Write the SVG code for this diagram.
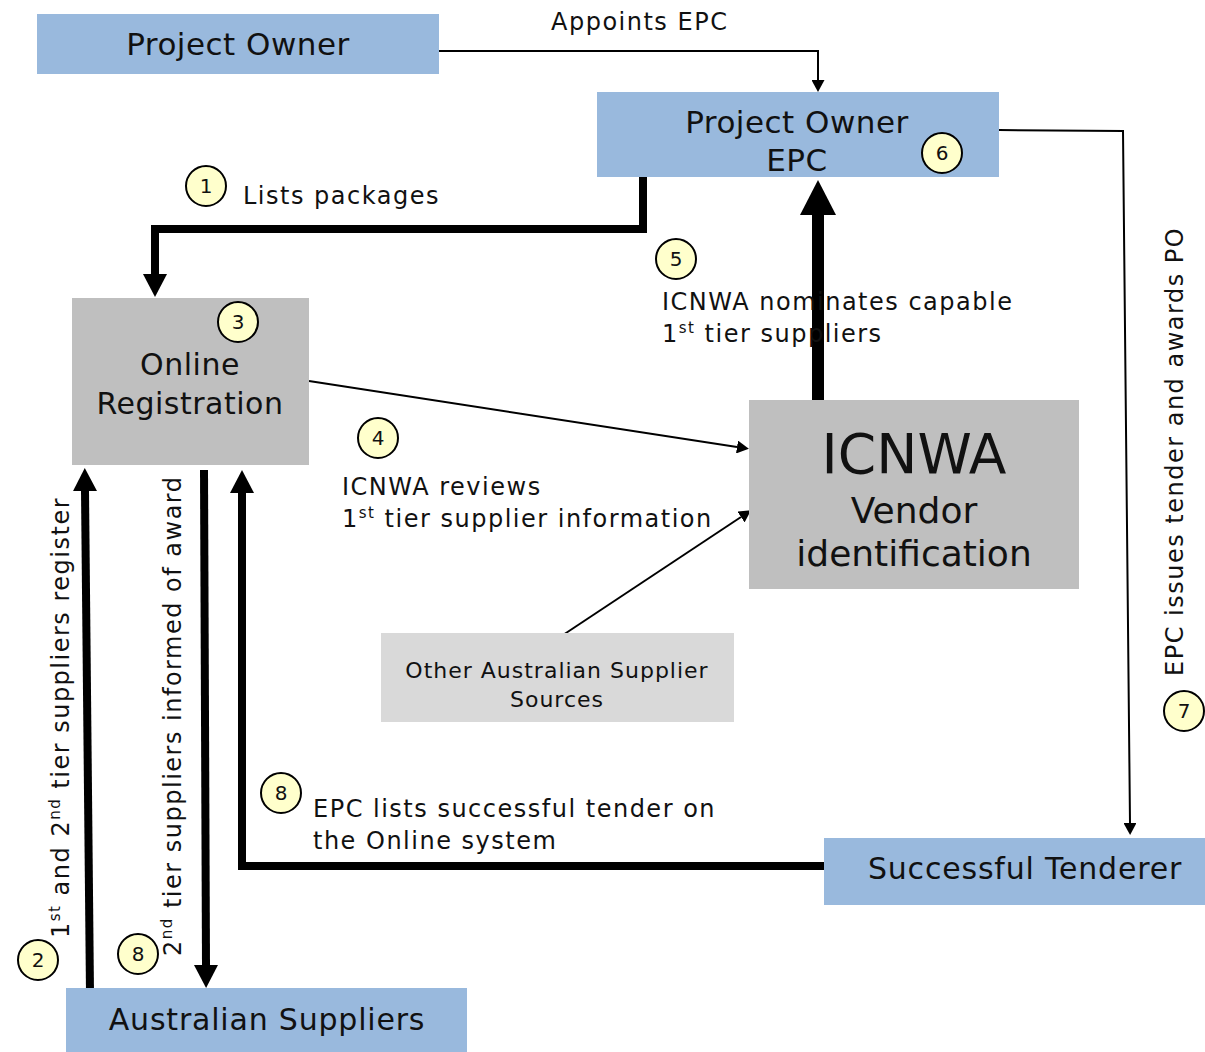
<svg xmlns="http://www.w3.org/2000/svg" width="1205" height="1052" viewBox="0 0 1205 1052">
<style>
text{font-family:"DejaVu Sans","Liberation Sans",sans-serif;fill:#111}
.blue{fill:#99b9dd}
.gray{fill:#bfbfbf}
.lgray{fill:#d9d9d9}
.title{font-size:31px;letter-spacing:0.5px;text-anchor:middle}
.lbl{font-size:24px;letter-spacing:1.5px}
.num circle{fill:#ffffcc;stroke:#000;stroke-width:2}
.num text{font-size:20px;text-anchor:middle}
.thin{fill:none;stroke:#000;stroke-width:2}
.thick{fill:none;stroke:#000;stroke-width:8}
.huge{fill:none;stroke:#000;stroke-width:12}
.sup{font-size:15px}
</style>
<defs>
<marker id="aThin" markerUnits="userSpaceOnUse" markerWidth="12" markerHeight="13" viewBox="0 0 12 13" refX="0" refY="6.5" orient="auto"><path d="M0,0 L12,6.5 L0,13 z" fill="#000"/></marker>
<marker id="aThick" markerUnits="userSpaceOnUse" markerWidth="23" markerHeight="24" viewBox="0 0 23 24" refX="0" refY="12" orient="auto"><path d="M0,0 L23,12 L0,24 z" fill="#000"/></marker>
<marker id="aHuge" markerUnits="userSpaceOnUse" markerWidth="35" markerHeight="36" viewBox="0 0 35 36" refX="0" refY="18" orient="auto"><path d="M0,0 L35,18 L0,36 z" fill="#000"/></marker>
</defs>

<g id="connectors">
<path class="thin" d="M439,51 H818 V80" marker-end="url(#aThin)"/>
<path class="thin" d="M999,130 L1123,131 L1130,823" marker-end="url(#aThin)"/>
<path class="thick" d="M643,177 V229 H155 V274" marker-end="url(#aThick)"/>
<path class="thin" d="M309,381 L737,447" marker-end="url(#aThin)"/>
<path class="thin" d="M563,635 L741,517" marker-end="url(#aThin)"/>
<path class="huge" d="M818,400 V215" marker-end="url(#aHuge)"/>
<path class="thick" d="M90,993 L85,491" marker-end="url(#aThick)"/>
<path class="thick" d="M204,470 L206,965" marker-end="url(#aThick)"/>
<path class="thick" d="M824,866 H242 V493" marker-end="url(#aThick)"/>
</g>

<g id="project-owner">
<rect class="blue" x="37" y="14" width="402" height="60"/>
<text class="title" x="238" y="55">Project Owner</text>
</g>

<g id="project-owner-epc">
<rect class="blue" x="597" y="92" width="402" height="85"/>
<text class="title" x="797" y="133">Project Owner</text>
<text class="title" x="797" y="171">EPC</text>
</g>

<g id="online-registration">
<rect class="gray" x="72" y="298" width="237" height="167"/>
<text class="title" x="190" y="375" style="font-size:30px">Online</text>
<text class="title" x="190" y="414" style="font-size:30px">Registration</text>
</g>

<g id="icnwa">
<rect class="gray" x="749" y="400" width="330" height="189"/>
<text x="914" y="473" style="font-size:55px;text-anchor:middle">ICNWA</text>
<text x="914" y="523" style="font-size:36px;text-anchor:middle">Vendor</text>
<text x="914" y="566" style="font-size:36px;text-anchor:middle">identification</text>
</g>

<g id="other-sources">
<rect class="lgray" x="381" y="633" width="353" height="89"/>
<text x="557" y="678" style="font-size:22px;letter-spacing:1px;text-anchor:middle">Other Australian Supplier</text>
<text x="557" y="707" style="font-size:22px;letter-spacing:1px;text-anchor:middle">Sources</text>
</g>

<g id="successful-tenderer">
<rect class="blue" x="824" y="838" width="381" height="67"/>
<text class="title" x="1025" y="879" style="font-size:30px;letter-spacing:0.8px">Successful Tenderer</text>
</g>

<g id="australian-suppliers">
<rect class="blue" x="66" y="988" width="401" height="64"/>
<text class="title" x="267" y="1030" style="font-size:30px;letter-spacing:0.8px">Australian Suppliers</text>
</g>

<g id="labels">
<text class="lbl" x="551" y="30">Appoints EPC</text>
<text class="lbl" x="243" y="204">Lists packages</text>
<text class="lbl" x="662" y="310">ICNWA nominates capable</text>
<text class="lbl" x="662" y="342">1<tspan class="sup" dy="-9">st</tspan><tspan dy="9"> tier suppliers</tspan></text>
<text class="lbl" x="342" y="495">ICNWA reviews</text>
<text class="lbl" x="342" y="527">1<tspan class="sup" dy="-9">st</tspan><tspan dy="9"> tier supplier information</tspan></text>
<text class="lbl" x="313" y="817">EPC lists successful tender on</text>
<text class="lbl" x="313" y="849">the Online system</text>
<text class="lbl" transform="translate(69,938) rotate(-90)">1<tspan class="sup" dy="-9">st</tspan><tspan dy="9"> and 2</tspan><tspan class="sup" dy="-9">nd</tspan><tspan dy="9"> tier suppliers register</tspan></text>
<text class="lbl" transform="translate(181,956) rotate(-90)">2<tspan class="sup" dy="-9">nd</tspan><tspan dy="9"> tier suppliers informed of award</tspan></text>
<text class="lbl" transform="translate(1183,676) rotate(-90)">EPC issues tender and awards PO</text>
</g>

<g id="step-numbers">
<g class="num"><circle cx="206" cy="186" r="20"/><text x="206" y="193">1</text></g>
<g class="num"><circle cx="38" cy="960" r="20"/><text x="38" y="967">2</text></g>
<g class="num"><circle cx="238" cy="322" r="20"/><text x="238" y="329">3</text></g>
<g class="num"><circle cx="378" cy="438" r="20"/><text x="378" y="445">4</text></g>
<g class="num"><circle cx="676" cy="259" r="20"/><text x="676" y="266">5</text></g>
<g class="num"><circle cx="942" cy="153" r="20"/><text x="942" y="160">6</text></g>
<g class="num"><circle cx="1184" cy="711" r="20"/><text x="1184" y="718">7</text></g>
<g class="num"><circle cx="281" cy="793" r="20"/><text x="281" y="800">8</text></g>
<g class="num"><circle cx="138" cy="954" r="20"/><text x="138" y="961">8</text></g>
</g>
</svg>
